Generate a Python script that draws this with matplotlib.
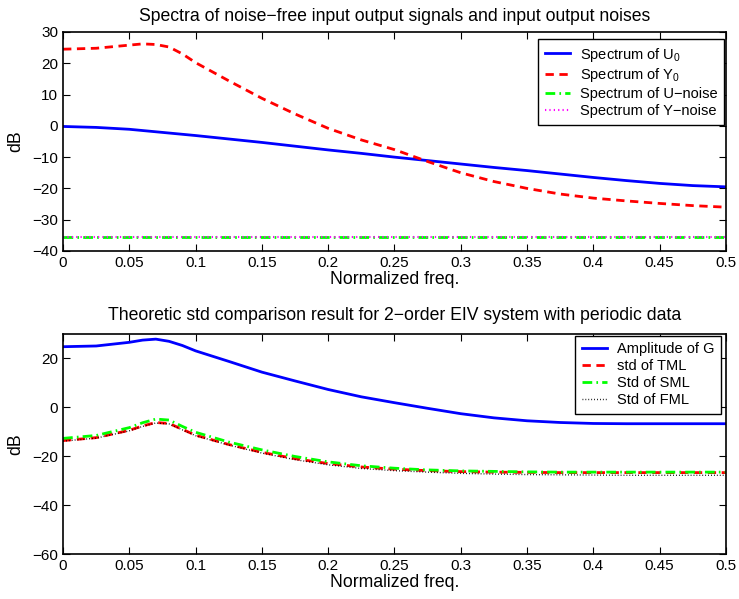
import matplotlib
matplotlib.use("Agg")
import matplotlib.pyplot as plt

plt.rcParams['font.family'] = ['Liberation Sans', 'DejaVu Sans']
plt.rcParams['mathtext.default'] = 'regular'

# normalized frequency grid
freq = [0, 0.025, 0.05, 0.06, 0.07, 0.08, 0.09, 0.1, 0.125, 0.15, 0.175, 0.2,
        0.225, 0.25, 0.275, 0.3, 0.325, 0.35, 0.375, 0.4, 0.425, 0.45, 0.475, 0.5]

# top panel: spectra (dB)
spec_u0 = [-0.2, -0.5, -1.1, -1.5, -1.9, -2.3, -2.7, -3.1, -4.2, -5.3, -6.5, -7.7,
           -8.8, -10.0, -11.1, -12.2, -13.3, -14.3, -15.4, -16.5, -17.5, -18.4, -19.1, -19.5]
spec_y0 = [24.5, 24.8, 25.8, 26.2, 26.0, 25.2, 23.0, 20.2, 14.4, 8.8, 3.8, -0.8,
           -4.5, -7.6, -11.4, -15.0, -17.8, -20.0, -21.8, -23.1, -24.0, -24.8, -25.5, -26.0]
spec_unoise = [-35.5] * len(freq)
spec_ynoise = [-35.5] * len(freq)

# bottom panel: amplitude of G and std curves (dB)
amp_g = [24.8, 25.1, 26.6, 27.5, 27.9, 27.0, 25.3, 23.1, 18.8, 14.4, 10.8, 7.3,
         4.3, 1.9, -0.4, -2.6, -4.3, -5.5, -6.2, -6.6, -6.7, -6.7, -6.7, -6.7]
std_tml = [-13.6, -12.4, -9.4, -7.6, -6.2, -6.6, -9.0, -11.4, -15.2, -18.4, -21.0, -23.0,
           -24.4, -25.3, -25.9, -26.3, -26.5, -26.6, -26.7, -26.7, -26.7, -26.7, -26.7, -26.7]
std_sml = [-12.7, -11.5, -8.3, -6.3, -4.8, -5.2, -7.8, -10.2, -14.2, -17.4, -20.1, -22.3,
           -23.9, -24.9, -25.6, -26.0, -26.2, -26.4, -26.5, -26.5, -26.5, -26.5, -26.5, -26.5]
std_fml = [-13.8, -12.6, -9.6, -7.8, -6.4, -6.8, -9.2, -11.6, -15.4, -18.7, -21.4, -23.5,
           -25.0, -25.9, -26.5, -27.0, -27.3, -27.5, -27.6, -27.7, -27.8, -27.8, -27.8, -27.8]

xticks = [0, 0.05, 0.1, 0.15, 0.2, 0.25, 0.3, 0.35, 0.4, 0.45, 0.5]
xticklabels = ['0', '0.05', '0.1', '0.15', '0.2', '0.25', '0.3', '0.35', '0.4', '0.45', '0.5']

fig = plt.figure(figsize=(7.39, 5.99), dpi=100)
ax1 = fig.add_axes([0.0853, 0.581, 0.897, 0.3656])
ax2 = fig.add_axes([0.0853, 0.0751, 0.897, 0.3673])

dash = (0, (3, 2))
dashdot = (0, (3.5, 1.5, 0.6, 1.5))
dot = (0, (0.6, 1.5))

ax1.plot(freq, spec_u0, color='b', lw=2, label='Spectrum of U$_0$')
ax1.plot(freq, spec_y0, color='r', lw=2, linestyle=dash, label='Spectrum of Y$_0$')
ax1.plot(freq, spec_unoise, color='lime', lw=2, linestyle=dashdot, label='Spectrum of U\u2212noise')
ax1.plot(freq, spec_ynoise, color='magenta', lw=1.5, linestyle=dot, label='Spectrum of Y\u2212noise')
ax1.set_ylim(-40, 30)
ax1.set_title('Spectra of noise\u2212free input output signals and input output noises',
              fontsize=12.7, pad=8)

ax2.plot(freq, amp_g, color='b', lw=2, label='Amplitude of G')
ax2.plot(freq, std_tml, color='r', lw=2, linestyle=dash, label='std of TML')
ax2.plot(freq, std_sml, color='lime', lw=2, linestyle=dashdot, label='Std of SML')
ax2.plot(freq, std_fml, color='k', lw=1, linestyle=dot, label='Std of FML')
ax2.set_ylim(-60, 30)
ax2.set_yticks([-60, -40, -20, 0, 20])
ax2.set_title('Theoretic std comparison result for 2\u2212order EIV system with periodic data',
              fontsize=12.7, pad=10)

legend_anchor = {ax1: (0.997, 0.968), ax2: (0.9925, 0.992)}

for ax in (ax1, ax2):
    ax.set_xlim(0, 0.5)
    ax.set_xticks(xticks)
    ax.set_xticklabels(xticklabels)
    ax.set_yticklabels([str(int(t)).replace('-', '\u2212') for t in ax.get_yticks()])
    ax.set_xlabel('Normalized freq.', fontsize=12.7, labelpad=1)
    ax.set_ylabel('dB', fontsize=12.7, labelpad=6)
    ax.tick_params(direction='in', top=True, right=True, length=5, labelsize=11, width=0.8)
    for s in ax.spines.values():
        s.set_linewidth(1.2)
    leg = ax.legend(loc='upper right', bbox_to_anchor=legend_anchor[ax], fontsize=10.5,
                    fancybox=False, framealpha=1, edgecolor='k', borderaxespad=0,
                    handlelength=1.7, handletextpad=0.7, labelspacing=0.2, borderpad=0.45)
    leg.get_frame().set_linewidth(1.0)

fig.savefig('out.png', dpi=100)
